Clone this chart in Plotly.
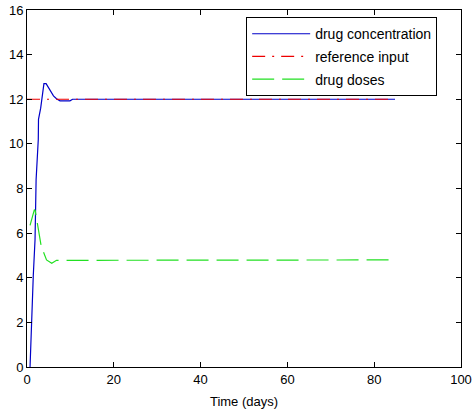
import plotly.graph_objects as go

# drug concentration
conc_t = [0.7, 0.85, 1.1, 1.3, 1.45, 1.85, 2.0, 2.1, 2.6, 2.65, 3.15, 3.4, 3.9, 4.4, 5.0, 6.1, 6.8, 7.6, 9.9, 10.5, 84.8]
conc_v = [0.0, 0.8, 2.4, 4.0, 4.1, 5.7, 6.8, 8.4, 10.2, 11.1, 11.6, 12.0, 12.7, 12.7, 12.5, 12.15, 12.02, 11.93, 11.93, 12.0, 12.0]

# reference input
ref_t = [0.0, 84.8]
ref_v = [12.0, 12.0]

# drug doses
dose_t = [0.7, 1.0, 1.7, 1.9, 2.45, 2.8, 3.2, 3.8, 4.5, 5.7, 6.8, 84.8]
dose_v = [6.35, 6.6, 7.05, 7.0, 6.4, 5.9, 5.5, 5.15, 4.8, 4.65, 4.78, 4.8]

x_ticks = [0, 20, 40, 60, 80, 100]
y_ticks = [0, 2, 4, 6, 8, 10, 12, 14, 16]

fig = go.Figure()
fig.add_trace(go.Scatter(x=conc_t, y=conc_v, mode="lines", name="drug concentration",
                         line=dict(color="#0000c8", width=1.2), legendgroup="a"))
fig.add_trace(go.Scatter(x=ref_t, y=ref_v, mode="lines", name="reference input",
                         line=dict(color="#ee0000", width=1.2, dash="13px,7px,2px,7px"), legendgroup="b"))
fig.add_trace(go.Scatter(x=dose_t, y=dose_v, mode="lines", name="drug doses",
                         line=dict(color="#22e022", width=1.2, dash="22px,8px"), legendgroup="c"))

axis_common = dict(showline=True, linecolor="black", linewidth=1, mirror="ticks",
                   ticks="inside", ticklen=5, tickcolor="black", tickwidth=1,
                   showgrid=False, zeroline=False, automargin=False,
                   tickfont=dict(family="Liberation Sans, Arial", size=13, color="black"))

fig.update_layout(
    width=472, height=410,
    margin=dict(l=27, r=11, t=10, b=43),
    paper_bgcolor="white", plot_bgcolor="white",
    xaxis=dict(range=[0, 100], tickvals=x_ticks,
               title=dict(text="Time (days)", font=dict(family="Liberation Sans, Arial", size=13, color="black"), standoff=11),
               **axis_common),
    yaxis=dict(range=[0, 16], tickvals=y_ticks, **axis_common),
    legend=dict(x=0.505, y=0.98, xanchor="left", yanchor="top",
                bordercolor="black", borderwidth=1, bgcolor="white",
                traceorder="grouped", tracegroupgap=1.5, itemwidth=58,
                font=dict(family="Liberation Sans, Arial", size=14, color="black")),
    showlegend=True,
)

fig.write_html("out.html")
